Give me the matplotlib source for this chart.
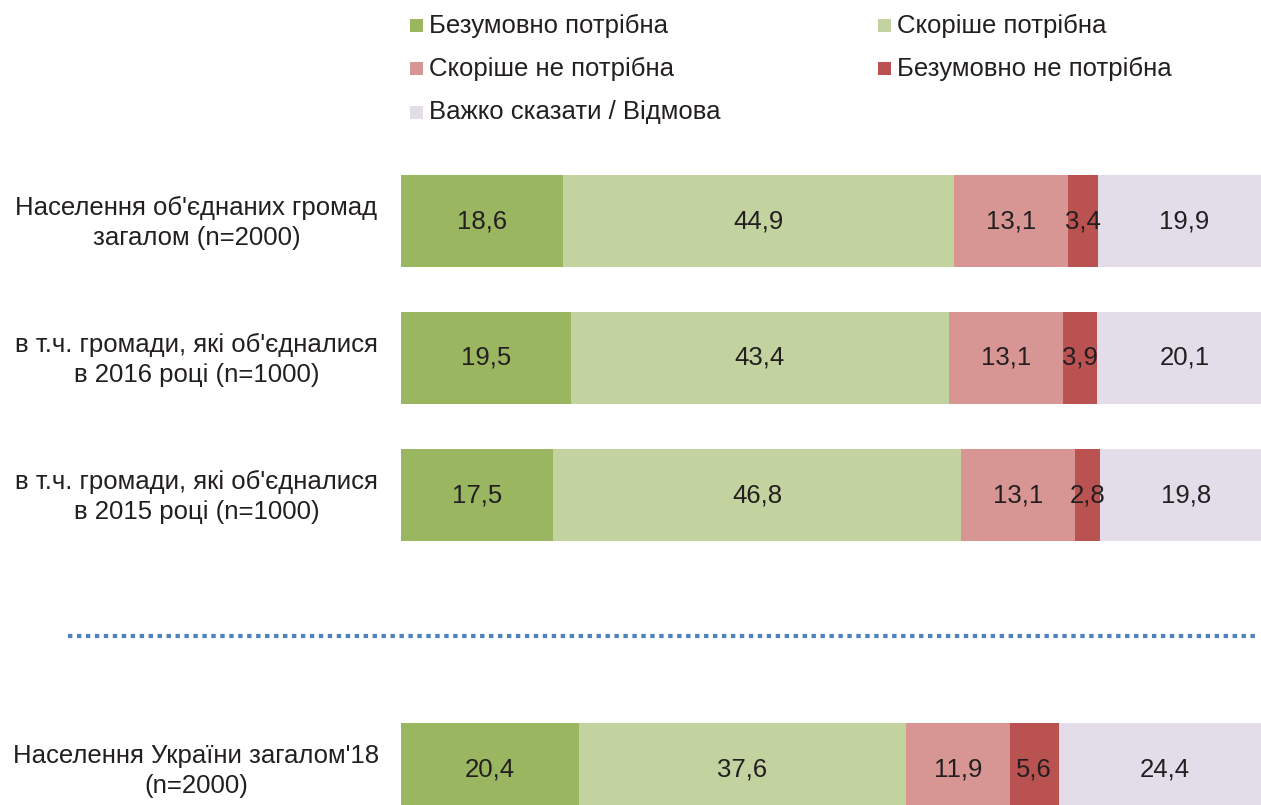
import matplotlib.pyplot as plt
from matplotlib.patches import Rectangle

plt.rcParams['font.family'] = ['Liberation Sans', 'DejaVu Sans']

groups = ["Населення об'єднаних громад\nзагалом (n=2000)",
          "в т.ч. громади, які об'єдналися\nв 2016 році (n=1000)",
          "в т.ч. громади, які об'єдналися\nв 2015 році (n=1000)",
          "Населення України загалом'18\n(n=2000)"]
categories = ["Безумовно потрібна", "Скоріше потрібна", "Скоріше не потрібна",
              "Безумовно не потрібна", "Важко сказати / Відмова"]
values = [
    [18.6, 44.9, 13.1, 3.4, 19.9],
    [19.5, 43.4, 13.1, 3.9, 20.1],
    [17.5, 46.8, 13.1, 2.8, 19.8],
    [20.4, 37.6, 11.9, 5.6, 24.4],
]
colors = ['#9bb661', '#c2d39f', '#d79594', '#ba5251', '#e3ddea']

W, H = 1261, 805
FS = 18.5
fig = plt.figure(figsize=(W / 100, H / 100), dpi=100)
# the plot area runs past the right edge of the picture (cropped)
ax = fig.add_axes([401 / W, 0, 871 / W, 1])

ypos = [0, 1, 2, 4]
ax.set_ylim((H - 221) / 137, -221 / 137)
ax.set_xlim(0, 100)
ax.axis('off')

for row, y in zip(values, ypos):
    left = 0
    for v, c in zip(row, colors):
        ax.barh(y, v, left=left, height=92 / 137, color=c, edgecolor='none')
        ax.text(left + v / 2, y, f'{v:.1f}'.replace('.', ','), ha='center',
                va='center', fontsize=FS, color='#231f20')
        left += v

# group labels
for lab, y in zip(groups, ypos):
    yf = ax.transData.transform((0, y))[1]
    fig.text(196.5 / W, fig.transFigure.inverted().transform((0, yf))[1] - 2 / H,
             lab, ha='center', va='center', fontsize=FS, color='#231f20',
             linespacing=1.33)

# dotted separator
ax.plot([(68 - 401) / 871, (1255 - 401) / 871], [3.03, 3.03],
        transform=ax.get_yaxis_transform(), color='#4f81bd', lw=3,
        dashes=(1.05, 1.1), dash_capstyle='butt', clip_on=False)

# legend
leg_pos = [(0, 0), (1, 0), (0, 1), (1, 1), (0, 2)]
col_x = [410, 878]
for (col, r), name, c in zip(leg_pos, categories, colors):
    yc = 25.5 + 43.3 * r
    x0 = col_x[col]
    fig.add_artist(Rectangle((x0 / W, 1 - (yc + 6.5) / H), 13 / W, 13 / H,
                             transform=fig.transFigure, color=c, lw=0))
    fig.text((x0 + 19) / W, 1 - yc / H, name, ha='left', va='center',
             fontsize=FS, color='#231f20')

fig.savefig('out.png', dpi=100)
